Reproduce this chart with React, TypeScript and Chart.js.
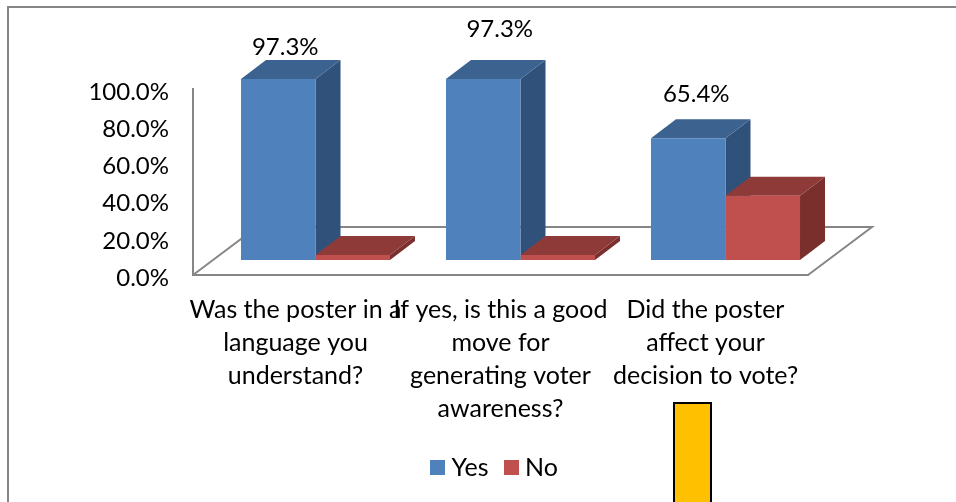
import React, { useEffect, useRef } from "react";
import { Chart, registerables } from "chart.js";

Chart.register(...registerables);

const categories = [
  ["Was the poster in a", "language you", "understand?"],
  ["If yes, is this a good", "move for", "generating voter", "awareness?"],
  ["Did the poster", "affect your", "decision to vote?"],
];
const yesValues = [97.3, 97.3, 65.4];
const noValues = [2.7, 2.7, 34.6];
const yesLabels = ["97.3%", "97.3%", "65.4%"];

const FONT = "Lato, 'Open Sans', sans-serif";
const FONT_SIZE = 25;
const NUMBER_FONT_SIZE = 24;
const AXIS = "#868686";
const SHIFT = { x: 20, y: -15 };
const DEPTH = { x: 25, y: -19 };
const FLOOR = { x: 64, y: -48 };
const YES_LABEL_OFFSETS = [
  { x: 7, y: -32 },
  { x: 16.5, y: -50 },
  { x: 8, y: -44 },
];
const FACES = [
  { front: "#4F81BD", top: "#3C6290", side: "#30527A" },
  { front: "#C0504D", top: "#8E3A38", side: "#7B2F2D" },
];

function swatch(color: string) {
  const c = document.createElement("canvas");
  c.width = 15;
  c.height = 15;
  const g = c.getContext("2d")!;
  g.fillStyle = color;
  g.fillRect(0, 0, 15, 15);
  return c;
}

function poly(ctx: CanvasRenderingContext2D, pts: number[][], fill: string) {
  ctx.beginPath();
  pts.forEach((p, i) => (i ? ctx.lineTo(p[0], p[1]) : ctx.moveTo(p[0], p[1])));
  ctx.closePath();
  ctx.fillStyle = fill;
  ctx.fill();
}

const threeD = {
  id: "threeD",
  afterLayout(chart: any) {
    chart.legend.left = 186;
  },
  beforeDatasetsDraw(chart: any) {
    const { ctx, chartArea: a } = chart;
    ctx.save();
    ctx.strokeStyle = AXIS;
    ctx.lineWidth = 2;
    ctx.beginPath();
    ctx.moveTo(a.left, a.bottom);
    ctx.lineTo(a.left + FLOOR.x, a.bottom + FLOOR.y);
    ctx.lineTo(a.right + FLOOR.x, a.bottom + FLOOR.y);
    ctx.lineTo(a.right, a.bottom);
    ctx.stroke();
    ctx.restore();
    ctx.save();
    ctx.translate(SHIFT.x, SHIFT.y);
    // Side and top faces go first, left series before right, so that a
    // neighbouring bar's faces and every front face stay on top.
    FACES.forEach((face, index) => {
      chart.getDatasetMeta(index).data.forEach((el: any) => {
        const { x, y, base, width } = el.getProps(["x", "y", "base", "width"], true);
        const l = x - width / 2;
        const r = x + width / 2;
        poly(ctx, [[r, y], [r + DEPTH.x, y + DEPTH.y], [r + DEPTH.x, base + DEPTH.y], [r, base]], face.side);
        poly(ctx, [[l, y], [l + DEPTH.x, y + DEPTH.y], [r + DEPTH.x, y + DEPTH.y], [r, y]], face.top);
      });
    });
  },
  afterDatasetsDraw(chart: any) {
    const { ctx } = chart;
    ctx.restore();
    ctx.save();
    ctx.font = `${NUMBER_FONT_SIZE}px ${FONT}`;
    ctx.fillStyle = "#000";
    ctx.textAlign = "center";
    ctx.textBaseline = "middle";
    chart.getDatasetMeta(0).data.forEach((el: any, i: number) => {
      ctx.fillText(
        yesLabels[i],
        el.x + SHIFT.x + YES_LABEL_OFFSETS[i].x,
        el.y + SHIFT.y + YES_LABEL_OFFSETS[i].y
      );
    });
    ctx.restore();
  },
};

export default function App() {
  const ref = useRef<HTMLCanvasElement>(null);
  useEffect(() => {
    document.body.style.margin = "0";
    const chart = new Chart(ref.current!, {
      type: "bar",
      data: {
        labels: categories as any,
        datasets: [
          { label: "Yes", data: yesValues, backgroundColor: FACES[0].front, categoryPercentage: 0.727, barPercentage: 1 },
          { label: "No", data: noValues, backgroundColor: FACES[1].front, categoryPercentage: 0.727, barPercentage: 1 },
        ],
      },
      options: {
        responsive: false,
        animation: false,
        layout: { padding: { left: 78, right: 148, top: 89, bottom: 12 } },
        plugins: {
          title: { display: false },
          tooltip: { enabled: false },
          legend: {
            position: "bottom",
            labels: {
              boxWidth: 3,
              boxHeight: 15,
              padding: 21,
              usePointStyle: true,
              color: "#000",
              font: { family: FONT, size: FONT_SIZE },
              generateLabels: (c: any) =>
                c.data.datasets.map((d: any, i: number) => ({
                  text: d.label,
                  pointStyle: swatch(d.backgroundColor),
                  datasetIndex: i,
                  fontColor: "#000",
                  lineWidth: 0,
                })),
            },
          },
        },
        scales: {
          x: {
            grid: { display: false, drawTicks: false },
            border: { color: AXIS, width: 2 },
            afterFit: (s: any) => {
              s.height = 159;
            },
            ticks: {
              autoSkip: false,
              maxRotation: 0,
              minRotation: 0,
              padding: 18,
              color: "#000",
              font: { family: FONT, size: FONT_SIZE, lineHeight: "33px" },
            },
          },
          y: {
            min: 0,
            max: 100,
            grid: { display: false, drawTicks: false },
            border: { color: AXIS, width: 2 },
            afterFit: (s: any) => {
              s.width = 115;
            },
            ticks: {
              stepSize: 20,
              padding: 24,
              color: "#000",
              // The empty first line with a 6px line height sets the label 3px below its tick.
              font: { family: FONT, size: NUMBER_FONT_SIZE, lineHeight: "6px" },
              callback: (v: any) => ["", Number(v).toFixed(1) + "%"],
            },
          },
        },
      } as any,
      plugins: [threeD],
    });
    return () => chart.destroy();
  }, []);

  return (
    <div style={{ position: "fixed", left: 0, top: 0, width: 956, height: 502, overflow: "hidden", background: "#fff" }}>
      <canvas ref={ref} width={956} height={502} style={{ display: "block" }} />
      <div style={{ position: "absolute", left: 7, top: 6, right: 0, height: 2, background: AXIS }} />
      <div style={{ position: "absolute", left: 7, top: 6, bottom: 0, width: 2, background: AXIS }} />
      <div
        style={{
          position: "absolute",
          left: 673,
          top: 402,
          width: 39,
          height: 110,
          boxSizing: "border-box",
          background: "#FFC000",
          border: "2px solid #000",
        }}
      />
    </div>
  );
}
